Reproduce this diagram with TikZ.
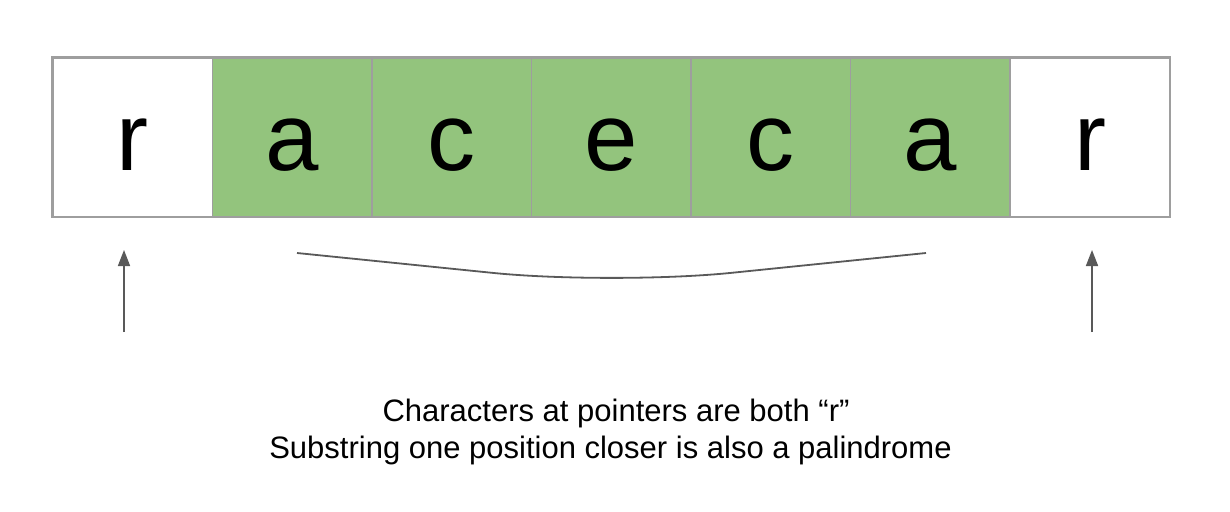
\documentclass[tikz,border=0pt]{standalone}
\usepackage{fontspec}
\setmainfont{Liberation Sans}
\usetikzlibrary{arrows.meta}
\definecolor{cellgreen}{HTML}{93C47D}
\definecolor{cellborder}{HTML}{9E9E9E}
\definecolor{ink}{HTML}{595959}
\begin{document}
\begin{tikzpicture}[x=1pt,y=-1pt,
  cell/.style={draw=cellborder, line width=1.6pt, minimum width=159.57pt, minimum height=159pt, inner sep=0pt, anchor=north west},
  hot/.style={cell, fill=cellgreen},
  letter/.style={anchor=base, font=\fontsize{96}{110}\selectfont, inner sep=0pt},
  pointer/.style={draw=ink, line width=1.6pt, -{Triangle[length=16pt,width=12pt]}},
  caption/.style={anchor=base, font=\fontsize{31}{37}\selectfont, inner sep=0pt}]
\useasboundingbox (0,0) rectangle (1230,511);
\fill[white] (0,0) rectangle (1230,511);
% cells
\node[cell] (c1) at (52,57) {};
\node[hot]  (c2) at (211.57,57) {};
\node[hot]  (c3) at (371.14,57) {};
\node[hot]  (c4) at (530.71,57) {};
\node[hot]  (c5) at (690.28,57) {};
\node[hot]  (c6) at (849.85,57) {};
\node[cell] (c7) at (1009.42,57) {};
\draw[cellborder, line width=1.6pt] (c1.north west) rectangle (c7.south east);
% letters
\node[letter] (l1) at (c1.center |- 0,170) {r};
\node[letter] (l2) at (c2.center |- 0,170) {a};
\node[letter] (l3) at (c3.center |- 0,170) {c};
\node[letter] (l4) at (c4.center |- 0,170) {e};
\node[letter] (l5) at (c5.center |- 0,170) {c};
\node[letter] (l6) at (c6.center |- 0,170) {a};
\node[letter] (l7) at (c7.center |- 0,170) {r};
% pointers
\coordinate (p1s) at (124,332);
\coordinate (p1e) at (124,250);
\coordinate (p2s) at (1092,332);
\coordinate (p2e) at (1092,250);
\draw[pointer] (p1s) -- (p1e);
\draw[pointer] (p2s) -- (p2e);
% brace
\coordinate (bl) at (297,253);
\coordinate (bm) at (612,285);
\coordinate (br) at (926,253);
\draw[ink, line width=1.8pt, rounded corners=120pt] (bl) -- (bm) -- (br);
% caption
\node[caption] (t1) at (616,421.7) {Characters at pointers are both “r”};
\node[caption] (t2) at (610.5,458.3) {Substring one position closer is also a palindrome};
\end{tikzpicture}
\end{document}
